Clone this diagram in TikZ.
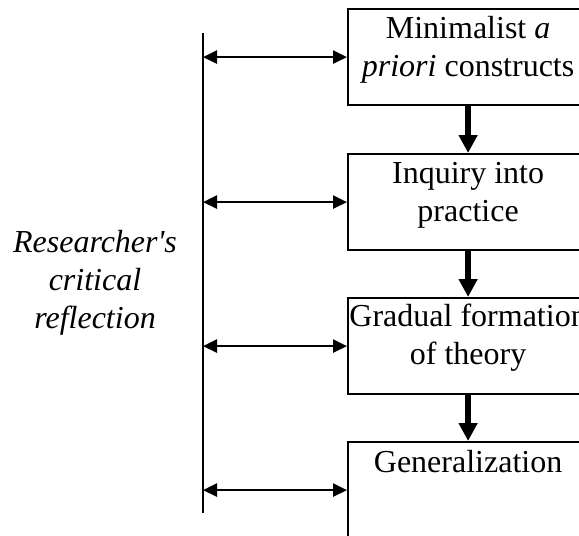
\documentclass[tikz,border=0pt]{standalone}
\usepackage{fontspec}
\setmainfont{Liberation Serif}
\usetikzlibrary{arrows.meta}

\begin{document}
\begin{tikzpicture}[
  x=1pt, y=-1pt,
  every node/.style={font=\fontsize{32}{38}\selectfont},
  stagebox/.style={draw, line width=2.2pt, minimum width=240pt, minimum height=96pt,
                   anchor=north west, inner sep=0pt},
  stagetext/.style={align=center, anchor=north, inner sep=0pt},
  flow/.style={line width=5.5pt, -{Triangle[length=18pt,width=18pt]}},
  link/.style={line width=2.5pt, {Triangle[length=14pt,width=13pt]}-{Triangle[length=14pt,width=13pt]}},
  spine/.style={line width=2pt}
]
\useasboundingbox (0,0) rectangle (579,536);
\clip (0,0) rectangle (579,536);

% stage boxes
\node[stagebox] (b1) at (347,8)   {};
\node[stagebox] (b2) at (347,153) {};
\node[stagebox] (b3) at (347,297) {};
\node[stagebox] (b4) at (347,441) {};

% stage labels
\node[stagetext] (t1) at ([yshift=-3.4pt]b1.north) {\strut Minimalist \textit{a}\\\textit{priori} constructs};
\node[stagetext] (t2) at ([yshift=-3.4pt]b2.north) {\strut Inquiry into\\practice};
\node[stagetext] (t3) at ([yshift=-2.4pt]b3.north) {\strut Gradual formation\\of theory};
\node[stagetext] (t4) at ([yshift=-4.4pt]b4.north) {\strut Generalization};

% flow between stages
\draw[flow] (b1.south) -- (b2.north);
\draw[flow] (b2.south) -- (b3.north);
\draw[flow] (b3.south) -- (b4.north);

% reflection spine
\coordinate (stop) at (203,33);
\coordinate (sbot) at (203,513);
\draw[spine] (stop) -- (sbot);

\draw[link] (stop |- b1.west) -- (b1.west);
\draw[link] (stop |- b2.west) -- (b2.west);
\draw[link] (stop |- b3.west) -- (b3.west);
\draw[link] (stop |- b4.west) -- (b4.west);

% side label
\node[stagetext, font=\fontsize{32}{38}\itshape] (refl) at (95,226)
  {\strut Researcher\textquotesingle s\\critical\\reflection};
\end{tikzpicture}
\end{document}
